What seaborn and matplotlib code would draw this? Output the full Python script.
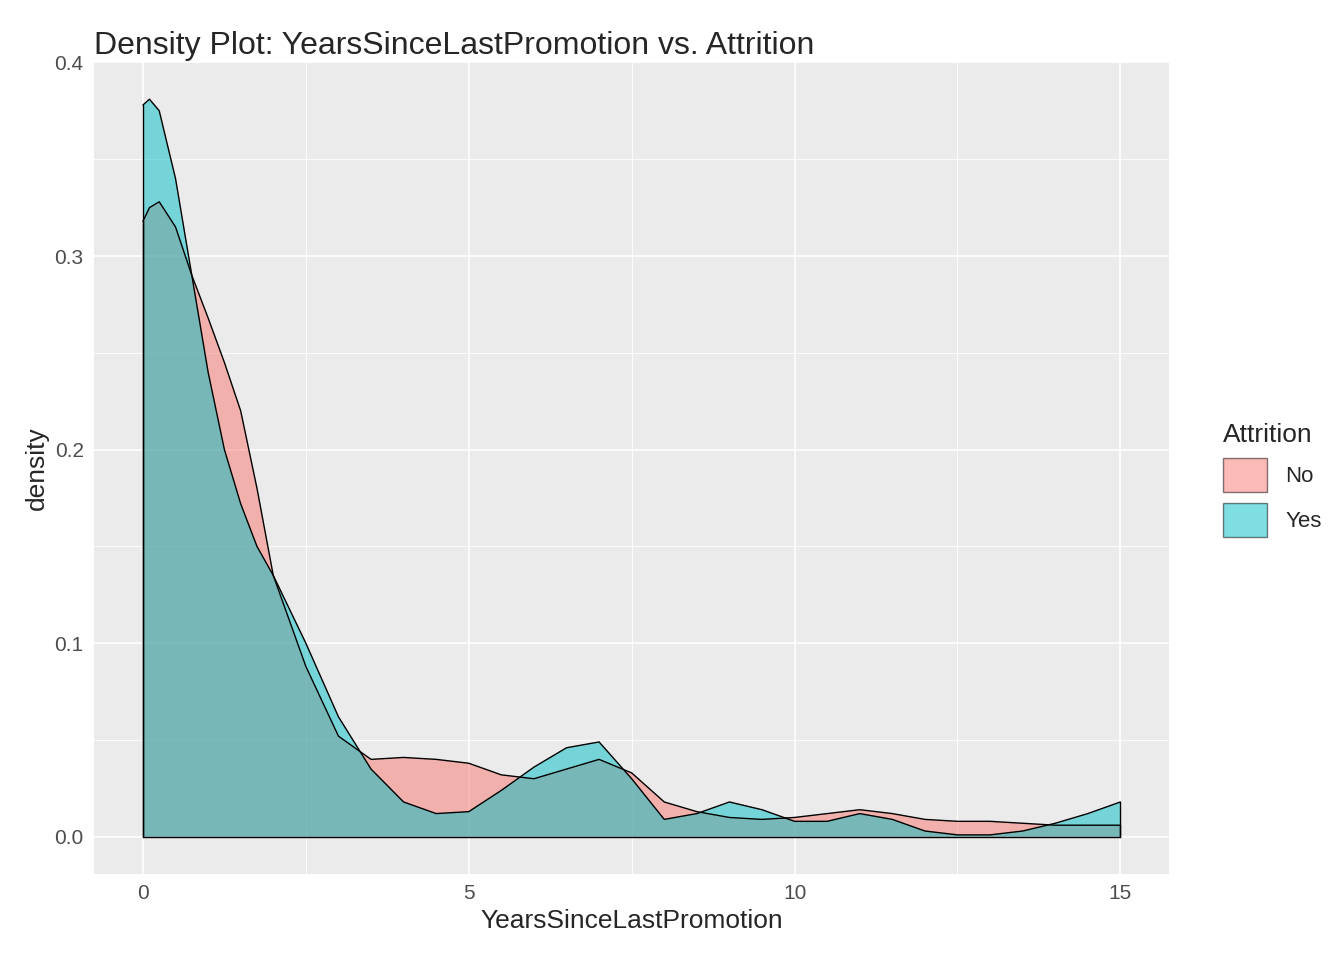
import numpy as np
import matplotlib.pyplot as plt
import seaborn as sns
from matplotlib.patches import Patch

# density curves (years, density)
years = [0, 0.1, 0.25, 0.5, 0.75, 1, 1.25, 1.5, 1.75, 2, 2.5, 3, 3.5, 4, 4.5, 5, 5.5, 6,
         6.5, 7, 7.5, 8, 8.5, 9, 9.5, 10, 10.5, 11, 11.5, 12, 12.5, 13, 13.5, 14, 14.5, 15]
dens_no = [0.318, 0.325, 0.328, 0.315, 0.29, 0.268, 0.245, 0.22, 0.18, 0.135, 0.088, 0.052,
           0.04, 0.041, 0.04, 0.038, 0.032, 0.03, 0.035, 0.04, 0.033, 0.018, 0.013, 0.01,
           0.009, 0.01, 0.012, 0.014, 0.012, 0.009, 0.008, 0.008, 0.007, 0.006, 0.006, 0.006]
dens_yes = [0.378, 0.381, 0.375, 0.34, 0.29, 0.24, 0.2, 0.172, 0.15, 0.135, 0.1, 0.062,
            0.035, 0.018, 0.012, 0.013, 0.024, 0.036, 0.046, 0.049, 0.03, 0.009, 0.012, 0.018,
            0.014, 0.008, 0.008, 0.012, 0.009, 0.003, 0.001, 0.001, 0.003, 0.007, 0.012, 0.018]
groups = ["No", "Yes"]
colors = ["#F8766D", "#00BFC4"]

sns.set_theme(style="darkgrid", rc={"axes.facecolor": "#EBEBEB", "grid.color": "white"})
plt.rcParams['font.family'] = ['Liberation Sans', 'DejaVu Sans']

fig, ax = plt.subplots(figsize=(13.44, 9.6), dpi=100)
for dens, col in zip([dens_no, dens_yes], colors):
    ax.fill_between(years, 0, dens, facecolor=col, alpha=0.5, edgecolor="none")
    ax.plot(years, dens, color="black", lw=1)
    ax.plot([0, 0], [0, dens[0]], color="black", lw=1)
    ax.plot([15, 15], [0, dens[-1]], color="black", lw=1)
ax.plot([0, 15], [0, 0], color="black", lw=1)

ax.set_xlim(-0.75, 15.75)
ax.set_ylim(-0.019, 0.4)
ax.set_xticks([0, 5, 10, 15])
ax.set_yticks([0, 0.1, 0.2, 0.3, 0.4])
ax.set_yticklabels(["0.0", "0.1", "0.2", "0.3", "0.4"])
ax.set_xticks([2.5, 7.5, 12.5], minor=True)
ax.set_yticks([0.05, 0.15, 0.25, 0.35], minor=True)
ax.grid(which="major", color="white", lw=1.2)
ax.grid(which="minor", color="white", lw=0.6)
ax.tick_params(axis="both", which="major", length=4, color="#333333", labelsize=15, labelcolor="#4D4D4D")
ax.tick_params(which="minor", length=0)
for s in ax.spines.values():
    s.set_visible(False)
ax.set_xlabel("YearsSinceLastPromotion", fontsize=19)
ax.set_ylabel("density", fontsize=19)
ax.set_title("Density Plot: YearsSinceLastPromotion vs. Attrition", fontsize=23, loc="left", x=0.0)

handles = [Patch(facecolor=c, alpha=0.5, edgecolor="black") for c in colors]
leg = fig.legend(handles, groups, title="Attrition", loc="center left", bbox_to_anchor=(0.895, 0.5),
                 frameon=False, fontsize=16, title_fontsize=19, handlelength=2, handleheight=2)
leg._legend_box.align = "left"

fig.subplots_adjust(left=0.07, right=0.87, top=0.935, bottom=0.09)
fig.savefig("out.png")
